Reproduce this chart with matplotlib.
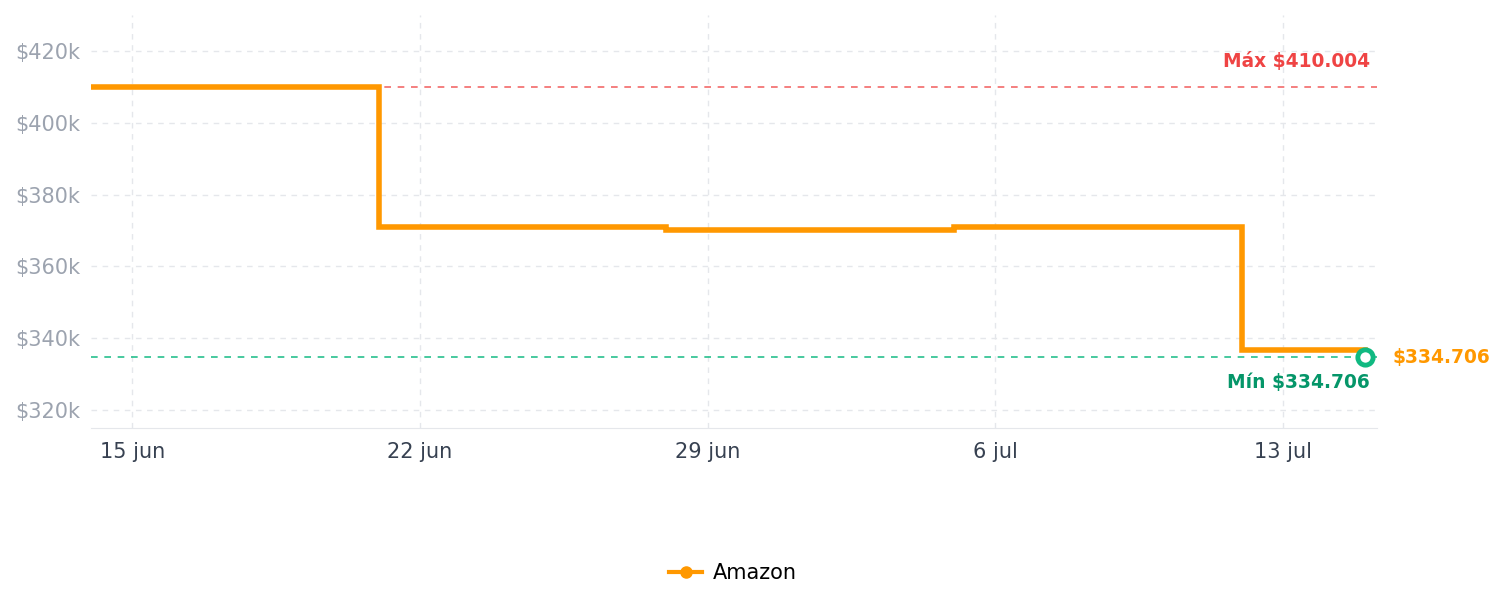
import numpy as np
import matplotlib.pyplot as plt
import matplotlib.dates as mdates
from datetime import datetime

# price history (step changes)
dates = [datetime(2024, 6, 14), datetime(2024, 6, 21), datetime(2024, 6, 28),
         datetime(2024, 7, 5), datetime(2024, 7, 12), datetime(2024, 7, 15)]
prices = [410004, 371000, 370100, 371000, 336700, 336700]

last_date = datetime(2024, 7, 15)
last_price = 334706
max_price = 410004
min_price = 334706

tick_dates = [datetime(2024, 6, 15), datetime(2024, 6, 22), datetime(2024, 6, 29),
              datetime(2024, 7, 6), datetime(2024, 7, 13)]
tick_labels = ["15 jun", "22 jun", "29 jun", "6 jul", "13 jul"]
y_ticks = [320000, 340000, 360000, 380000, 400000, 420000]

orange = "#ff9800"
red = "#ef4444"
green = "#10b981"
dark_green = "#059669"

fig = plt.figure(figsize=(15.05, 6.07), dpi=100)
ax = fig.add_axes([0.0605, 0.2949, 0.8545, 0.6804])

ax.step(dates, prices, where='post', color=orange, lw=4, label='Amazon',
        solid_joinstyle='miter', zorder=4)
ax.plot([last_date], [last_price], 'o', ms=11, mfc='white', mec=green, mew=3.5, zorder=5)

ax.axhline(max_price, color=red, ls=(0, (4, 4)), lw=1.2, alpha=0.8, zorder=2)
ax.axhline(min_price, color=green, ls=(0, (4, 4)), lw=1.2, alpha=0.9, zorder=2)

ax.set_xlim(datetime(2024, 6, 14), datetime(2024, 7, 15, 7))
ax.set_ylim(315000, 430000)

ax.set_xticks(tick_dates)
ax.set_xticklabels(tick_labels, fontsize=15, color="#374151")
ax.set_yticks(y_ticks)
ax.set_yticklabels([f"${v // 1000}k" for v in y_ticks], fontsize=15, color="#9ca3af")
ax.tick_params(length=0)
ax.tick_params(axis='y', pad=8)
ax.tick_params(axis='x', pad=10)

ax.grid(True, color="#e5e7eb", ls=(0, (4, 4)), lw=1)
for s in ['top', 'right', 'left']:
    ax.spines[s].set_visible(False)
ax.spines['bottom'].set_color("#e5e7eb")

ax.annotate("Máx $410.004", xy=(1, max_price), xycoords=('axes fraction', 'data'),
            xytext=(-5, 18), textcoords='offset points', ha='right', va='center',
            color=red, fontsize=13.4, fontweight='bold')
ax.annotate("Mín $334.706", xy=(1, min_price), xycoords=('axes fraction', 'data'),
            xytext=(-5, -18), textcoords='offset points', ha='right', va='center',
            color=dark_green, fontsize=13.4, fontweight='bold')
ax.annotate("$334.706", xy=(last_date, last_price),
            xytext=(20, 0), textcoords='offset points', ha='left', va='center',
            color=orange, fontsize=13.4, fontweight='bold', annotation_clip=False)

handle = plt.Line2D([], [], color=orange, lw=3, marker='o', ms=8)
fig.legend([handle], ['Amazon'], loc='center', bbox_to_anchor=(0.487, 0.056),
           frameon=False, fontsize=15, handlelength=1.6, handletextpad=0.5)

fig.savefig("out.png", dpi=100)
